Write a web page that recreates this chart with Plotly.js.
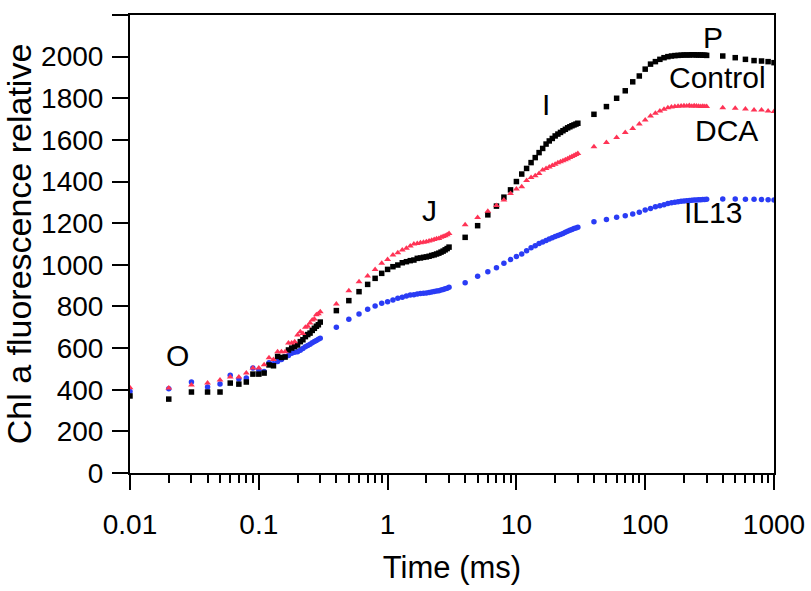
<!DOCTYPE html>
<html>
<head>
<meta charset="utf-8">
<script src="https://cdn.plot.ly/plotly-3.0.1.min.js"></script>
<style>html,body{margin:0;padding:0;background:#fff;}#chart{width:811px;height:591px;}</style>
</head>
<body>
<div id="chart"></div>
<script>
// Time points (ms)
var timeMs = [
  0.01,0.02,0.03,0.04,0.05,0.06,0.07,0.08,0.09,0.10,
  0.11,0.12,0.13,0.14,0.15,0.16,0.17,0.18,0.19,0.20,
  0.21,0.22,0.23,0.24,0.25,0.26,0.27,0.28,0.29,0.30,
  0.4,0.5,0.6,0.7,0.8,0.9,1.0,1.1,1.2,1.3,1.4,1.5,1.6,1.7,
  1.8,1.9,2.0,2.1,2.2,2.3,2.4,2.5,2.6,2.7,2.8,2.9,3.0,
  4,5,6,7,8,9,10,11,12,13,14,15,16,17,18,19,20,21,22,23,24,25,26,27,28,29,30,
  40,50,60,70,80,90,100,110,120,130,140,150,160,170,180,190,200,
  210,220,230,240,250,260,270,280,290,300,
  400,500,600,700,800,900,1000
];

var controlVals = [
  370,355,389,389,389,432,427,437,475,475,
  480,519,515,560,555,557,591,600,607,615,
  631,640,655,665,672,685,695,705,712,725,
  780,828,871,906,935,959,978,991,999,1010,1015,1020,1023,1031,
  1033,1036,1038,1041,1045,1048,1052,1056,1061,1066,1072,1078,1085,
  1132,1188,1240,1282,1325,1360,1400,1436,1463,1491,1515,1539,1559,1580,1595,1607,1619,1628,1636,1644,1651,1658,1663,1668,1672,1676,1680,
  1723,1760,1800,1836,1879,1907,1940,1964,1976,1987,1995,2000,2003,2005,2006,2007,2008,
  2008,2008,2009,2009,2008,2008,2008,2007,2007,2006,
  2003,1995,1987,1981,1979,1976,1971
];

var dcaVals = [
  410,408,423,432,447,461,461,480,504,504,
  520,554,545,583,583,583,624,625,630,663,
  679,670,700,705,720,735,740,760,765,775,
  812,876,919,946,978,1007,1026,1047,1058,1071,1079,1090,1100,1103,
  1106,1108,1111,1115,1118,1122,1125,1127,1132,1136,1140,1145,1151,
  1193,1227,1257,1285,1311,1343,1364,1375,1405,1420,1428,1439,1455,1463,1470,1477,1483,1490,1495,1500,1505,1510,1515,1520,1525,1530,1535,
  1567,1587,1611,1635,1655,1676,1696,1715,1728,1739,1747,1755,1758,1760,1762,1763,1764,
  1763,1765,1762,1764,1763,1762,1761,1762,1760,1760,
  1755,1752,1749,1744,1744,1739,1736
];

var il13Vals = [
  392,405,437,413,427,470,451,456,504,495,
  487,530,525,535,545,559,565,575,580,583,
  590,598,607,612,618,626,632,636,642,647,
  700,738,764,786,802,815,823,831,839,844,850,855,856,860,
  862,863,865,867,869,872,874,876,879,882,885,888,892,
  914,945,967,986,1008,1025,1040,1052,1068,1082,1092,1103,1110,1117,1124,1130,1136,1141,1146,1151,1156,1161,1166,1170,1174,1177,1180,
  1207,1218,1228,1236,1244,1252,1263,1271,1279,1284,1289,1295,1298,1300,1303,1305,1306,
  1308,1309,1310,1311,1311,1312,1313,1314,1314,1315,
  1316,1316,1315,1315,1314,1312,1311
];

var xTickVals = [0.01, 0.1, 1, 10, 100, 1000];
var xTickText = ['0.01', '0.1', '1', '10', '100', '1000'];
var yTickVals = [0,200,400,600,800,1000,1200,1400,1600,1800,2000,2200];

var labelTexts = ['O', 'J', 'I', 'P', 'Control', 'DCA', 'IL13'];

var FONT = 'Liberation Sans, Arial, sans-serif';

var traces = [
  {x: timeMs, y: il13Vals, name: 'IL13', type: 'scatter', mode: 'markers',
   marker: {symbol: 'circle', size: 5.5, color: '#2a3cf5'}},
  {x: timeMs, y: controlVals, name: 'Control', type: 'scatter', mode: 'markers',
   marker: {symbol: 'square', size: 5.5, color: '#000000'}},
  {x: timeMs, y: dcaVals, name: 'DCA', type: 'scatter', mode: 'markers',
   marker: {symbol: 'triangle-up', size: 6, color: '#ff3355'}}
];

var labelPos = [
  [0.0745, 0.2576], [0.4658, 0.5742], [0.6460, 0.8035], [0.9053, 0.9498],
  [0.9115, 0.8646], [0.9270, 0.7489], [0.9053, 0.5677]
];
var annotations = labelTexts.map(function (t, i) {
  return {text: t, xref: 'paper', yref: 'paper', x: labelPos[i][0], y: labelPos[i][1],
          xanchor: 'center', yanchor: 'middle', showarrow: false,
          font: {family: FONT, size: 30, color: '#000'}};
});

var layout = {
  width: 811, height: 591,
  margin: {l: 130, r: 37, t: 15, b: 118},
  paper_bgcolor: '#fff', plot_bgcolor: '#fff',
  showlegend: false,
  font: {family: FONT, color: '#000'},
  xaxis: {
    type: 'log', range: [-2, 3],
    tickvals: xTickVals, ticktext: xTickText,
    ticks: 'outside', ticklen: 15, tickwidth: 2, tickcolor: '#000',
    showline: true, linewidth: 2, linecolor: '#000', mirror: true,
    showgrid: false, zeroline: false,
    ticklabelstandoff: 10,
    tickfont: {family: FONT, size: 28, color: '#000'},
    minor: {ticks: 'outside', ticklen: 8, tickwidth: 2, tickcolor: '#000', dtick: 'D1', showgrid: false},
    title: {text: 'Time (ms)', font: {family: FONT, size: 31, color: '#000'}, standoff: 18}
  },
  yaxis: {
    range: [0, 2200],
    tickvals: yTickVals,
    ticks: 'outside', ticklen: 16, tickwidth: 2, tickcolor: '#000',
    showline: true, linewidth: 2, linecolor: '#000', mirror: true,
    showgrid: false, zeroline: false,
    ticklabelstandoff: 3,
    tickfont: {family: FONT, size: 28, color: '#000'},
    title: {text: 'Chl a fluorescence relative', font: {family: FONT, size: 34, color: '#000'}, standoff: 10}
  },
  annotations: annotations
};

Plotly.newPlot('chart', traces, layout, {displayModeBar: false, staticPlot: true});
</script>
</body>
</html>
